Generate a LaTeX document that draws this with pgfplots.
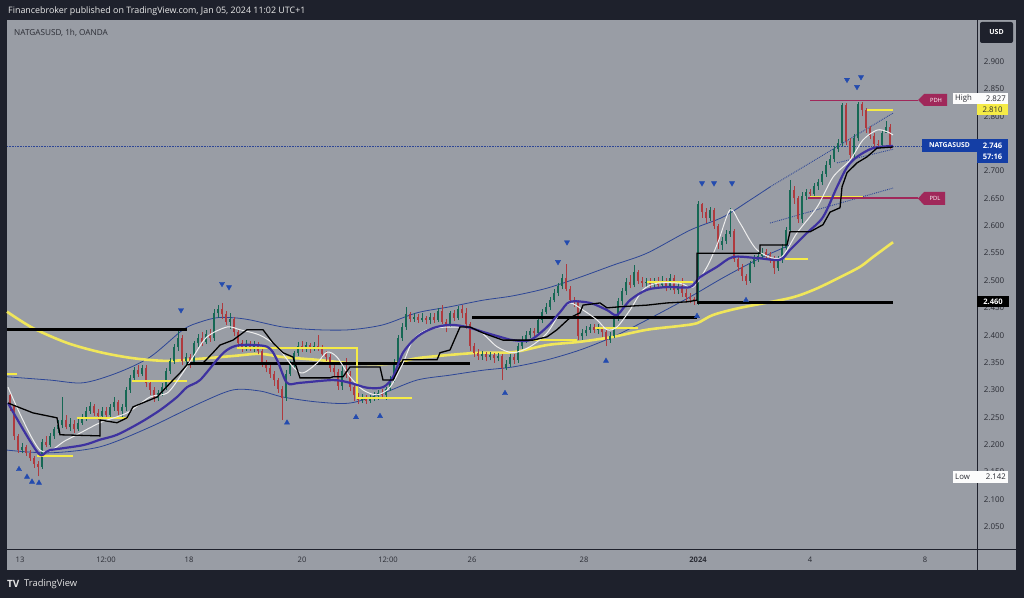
\documentclass[border=0pt]{standalone}
\usepackage{pgfplots}
\pgfplotsset{compat=1.18}
\usepackage{pgfplotstable}
\usepackage{fontspec}
\setmainfont{Open Sans}
\definecolor{bgdark}{RGB}{30,33,44}
\definecolor{panel}{RGB}{153,157,165}
\definecolor{upc}{RGB}{22,104,84}
\definecolor{dnc}{RGB}{175,58,62}
\definecolor{maY}{RGB}{240,230,90}
\definecolor{segY}{RGB}{245,235,70}
\definecolor{purp}{RGB}{62,50,160}
\definecolor{bandc}{RGB}{45,70,150}
\definecolor{tric}{RGB}{35,75,175}
\definecolor{pdhc}{RGB}{160,40,90}
\definecolor{lblue}{RGB}{20,62,165}
\definecolor{txtdark}{RGB}{42,44,52}
\definecolor{whiteln}{RGB}{238,238,238}

\pgfplotstableread{
x o h l c
10 2.290 2.295 2.262 2.270
14 2.270 2.272 2.208 2.215
18 2.215 2.220 2.185 2.190
22 2.190 2.203 2.184 2.196
26 2.196 2.200 2.180 2.185
30 2.185 2.190 2.170 2.175
34 2.175 2.180 2.158 2.165
38 2.165 2.170 2.142 2.160
42 2.160 2.210 2.155 2.205
46 2.205 2.215 2.195 2.200
50 2.200 2.222 2.196 2.215
54 2.215 2.232 2.210 2.228
58 2.228 2.245 2.222 2.235
62 2.235 2.287 2.230 2.245
66 2.245 2.255 2.228 2.232
70 2.232 2.248 2.225 2.238
74 2.238 2.245 2.222 2.228
78 2.228 2.250 2.225 2.240
82 2.240 2.256 2.236 2.248
86 2.248 2.268 2.244 2.262
90 2.262 2.278 2.256 2.270
94 2.270 2.274 2.252 2.258
98 2.258 2.265 2.245 2.252
102 2.252 2.268 2.248 2.262
106 2.262 2.268 2.246 2.255
110 2.255 2.275 2.250 2.268
114 2.268 2.287 2.262 2.278
118 2.278 2.282 2.255 2.262
122 2.262 2.275 2.250 2.268
126 2.268 2.305 2.262 2.300
130 2.300 2.328 2.295 2.322
134 2.322 2.342 2.316 2.336
138 2.336 2.345 2.324 2.330
142 2.330 2.346 2.325 2.340
146 2.340 2.345 2.305 2.312
150 2.312 2.318 2.290 2.300
154 2.300 2.305 2.278 2.285
158 2.285 2.300 2.280 2.295
162 2.295 2.312 2.288 2.305
166 2.305 2.340 2.300 2.335
170 2.335 2.358 2.330 2.352
174 2.352 2.384 2.348 2.378
178 2.378 2.412 2.372 2.395
182 2.395 2.400 2.345 2.352
186 2.352 2.368 2.342 2.360
190 2.360 2.365 2.340 2.348
194 2.348 2.390 2.345 2.385
198 2.385 2.402 2.378 2.395
202 2.395 2.405 2.380 2.388
206 2.388 2.410 2.384 2.402
210 2.402 2.412 2.388 2.395
214 2.395 2.448 2.390 2.440
218 2.440 2.455 2.432 2.448
222 2.448 2.458 2.430 2.438
226 2.438 2.445 2.418 2.425
230 2.425 2.440 2.412 2.430
234 2.430 2.434 2.398 2.405
238 2.405 2.410 2.378 2.385
242 2.385 2.392 2.370 2.378
246 2.378 2.392 2.372 2.384
250 2.384 2.390 2.372 2.378
254 2.378 2.390 2.370 2.382
258 2.382 2.388 2.365 2.372
262 2.372 2.378 2.342 2.350
266 2.350 2.355 2.332 2.340
270 2.340 2.348 2.322 2.330
274 2.330 2.335 2.308 2.318
278 2.318 2.322 2.295 2.302
282 2.302 2.308 2.245 2.285
286 2.285 2.336 2.280 2.330
290 2.330 2.352 2.325 2.345
294 2.345 2.372 2.340 2.368
298 2.368 2.388 2.362 2.380
302 2.380 2.390 2.370 2.376
306 2.376 2.388 2.370 2.382
310 2.382 2.386 2.368 2.376
314 2.376 2.388 2.372 2.380
318 2.380 2.400 2.372 2.378
322 2.378 2.382 2.358 2.365
326 2.365 2.372 2.352 2.360
330 2.360 2.365 2.332 2.340
334 2.340 2.345 2.325 2.332
338 2.332 2.338 2.300 2.308
342 2.308 2.345 2.300 2.335
346 2.335 2.358 2.322 2.330
350 2.330 2.335 2.298 2.305
354 2.305 2.310 2.280 2.290
358 2.290 2.295 2.275 2.282
362 2.282 2.292 2.276 2.285
366 2.285 2.290 2.274 2.280
370 2.280 2.290 2.276 2.284
374 2.284 2.296 2.280 2.288
378 2.288 2.300 2.282 2.294
382 2.294 2.302 2.284 2.290
386 2.290 2.306 2.282 2.302
390 2.302 2.325 2.298 2.318
394 2.318 2.356 2.314 2.350
398 2.350 2.400 2.345 2.395
402 2.395 2.422 2.390 2.415
406 2.415 2.452 2.410 2.438
410 2.438 2.442 2.424 2.430
414 2.430 2.440 2.425 2.434
418 2.434 2.438 2.422 2.428
422 2.428 2.440 2.424 2.432
426 2.432 2.436 2.420 2.428
430 2.428 2.440 2.420 2.434
434 2.434 2.440 2.422 2.428
438 2.428 2.450 2.424 2.445
442 2.445 2.455 2.420 2.425
446 2.425 2.430 2.405 2.420
450 2.420 2.445 2.415 2.440
454 2.440 2.446 2.426 2.432
458 2.432 2.454 2.428 2.448
462 2.448 2.456 2.432 2.440
466 2.440 2.450 2.412 2.420
470 2.420 2.424 2.372 2.380
474 2.380 2.385 2.360 2.368
478 2.368 2.374 2.355 2.362
482 2.362 2.372 2.355 2.366
486 2.366 2.370 2.352 2.360
490 2.360 2.370 2.354 2.364
494 2.364 2.368 2.350 2.358
498 2.358 2.368 2.352 2.362
502 2.362 2.366 2.318 2.340
506 2.340 2.355 2.336 2.348
510 2.348 2.365 2.342 2.360
514 2.360 2.366 2.348 2.355
518 2.355 2.385 2.350 2.380
522 2.380 2.398 2.374 2.392
526 2.392 2.408 2.386 2.400
530 2.400 2.414 2.394 2.408
534 2.408 2.414 2.398 2.404
538 2.404 2.432 2.400 2.428
542 2.428 2.448 2.422 2.442
546 2.442 2.458 2.438 2.452
550 2.452 2.470 2.446 2.465
554 2.465 2.485 2.460 2.478
558 2.478 2.496 2.472 2.490
562 2.490 2.512 2.484 2.505
566 2.505 2.530 2.480 2.485
570 2.485 2.490 2.458 2.465
574 2.465 2.470 2.452 2.460
578 2.460 2.464 2.392 2.398
582 2.398 2.412 2.392 2.404
586 2.404 2.416 2.398 2.410
590 2.410 2.420 2.404 2.415
594 2.415 2.420 2.404 2.410
598 2.410 2.420 2.402 2.414
602 2.414 2.418 2.396 2.405
606 2.405 2.410 2.380 2.392
610 2.392 2.405 2.386 2.398
614 2.398 2.436 2.394 2.430
618 2.430 2.468 2.426 2.462
622 2.462 2.486 2.456 2.480
626 2.480 2.505 2.474 2.498
630 2.498 2.510 2.486 2.492
634 2.492 2.528 2.488 2.515
638 2.515 2.520 2.494 2.500
642 2.500 2.506 2.488 2.495
646 2.495 2.504 2.488 2.498
650 2.498 2.504 2.486 2.494
654 2.494 2.504 2.488 2.498
658 2.498 2.506 2.486 2.492
662 2.492 2.508 2.486 2.500
666 2.500 2.504 2.480 2.488
670 2.488 2.512 2.482 2.505
674 2.505 2.510 2.476 2.482
678 2.482 2.500 2.475 2.490
682 2.490 2.505 2.470 2.478
686 2.478 2.485 2.462 2.470
690 2.470 2.478 2.458 2.466
694 2.466 2.470 2.456 2.462
698 2.462 2.645 2.456 2.640
702 2.640 2.642 2.615 2.625
706 2.625 2.632 2.605 2.615
710 2.615 2.635 2.608 2.628
714 2.628 2.632 2.594 2.600
718 2.600 2.604 2.558 2.565
722 2.565 2.580 2.555 2.572
726 2.572 2.592 2.566 2.585
730 2.585 2.632 2.580 2.590
734 2.590 2.595 2.534 2.540
738 2.540 2.545 2.518 2.525
742 2.525 2.530 2.500 2.508
746 2.508 2.512 2.492 2.500
750 2.500 2.536 2.496 2.530
754 2.530 2.546 2.524 2.540
758 2.540 2.552 2.534 2.545
762 2.545 2.560 2.540 2.552
766 2.552 2.558 2.540 2.546
770 2.546 2.552 2.532 2.540
774 2.540 2.545 2.512 2.522
778 2.522 2.544 2.518 2.538
782 2.538 2.566 2.532 2.560
786 2.560 2.598 2.555 2.592
790 2.592 2.684 2.588 2.665
794 2.665 2.672 2.640 2.650
798 2.650 2.655 2.605 2.612
802 2.612 2.662 2.606 2.655
806 2.655 2.668 2.648 2.662
810 2.662 2.668 2.650 2.658
814 2.658 2.678 2.652 2.672
818 2.672 2.686 2.666 2.680
822 2.680 2.700 2.674 2.695
826 2.695 2.718 2.690 2.712
830 2.712 2.730 2.706 2.722
834 2.722 2.746 2.716 2.740
838 2.740 2.758 2.734 2.752
842 2.752 2.825 2.745 2.820
846 2.820 2.824 2.748 2.755
850 2.755 2.760 2.722 2.730
854 2.730 2.768 2.720 2.760
858 2.760 2.827 2.755 2.822
862 2.822 2.826 2.800 2.812
866 2.812 2.815 2.770 2.778
870 2.778 2.782 2.758 2.765
874 2.765 2.770 2.744 2.750
878 2.750 2.756 2.740 2.748
882 2.748 2.776 2.744 2.770
886 2.770 2.792 2.770 2.780
890 2.780 2.786 2.740 2.746
}\candles

\begin{document}
\begin{tikzpicture}[x=1pt,y=1pt]
% backgrounds
\fill[bgdark] (0,0) rectangle (1024,598);
\fill[panel] (7,28) rectangle (1016,578);
\draw[bgdark, line width=1pt] (977.5,28) -- (977.5,578);
\draw[bgdark, line width=1pt] (7,49) -- (1016,49);
% header texts
\node[anchor=west, text=white!92!black, inner sep=0pt, font=\fontsize{8.9}{10}\selectfont] at (8,587) {Financebroker published on TradingView.com, Jan 05, 2024 11:02 UTC+1};
\node[anchor=west, text=txtdark, inner sep=0pt, font=\fontsize{8.2}{9}\selectfont] at (14,565) {NATGASUSD, 1h, OANDA};
\node[anchor=west, text=white!90!black, inner sep=0pt, font=\fontsize{10}{11}\selectfont\bfseries] at (7,14) {TV};
\node[anchor=west, text=white!90!black, inner sep=0pt, font=\fontsize{9.4}{11}\selectfont] at (24,14) {TradingView};

\begin{axis}[
  at={(7pt,49pt)}, anchor=south west, scale only axis,
  width=970pt, height=529pt,
  xmin=7, xmax=977, ymin=2.0092, ymax=2.9762,
  axis line style={draw=none},
  major tick length=0pt,
  clip=false,
  xtick={20,106,189,302,388,472,584,698,810,925},
  xticklabels={13,12:00,18,20,12:00,26,28,\textbf{2024},4,8},
  xticklabel style={anchor=center, yshift=-11pt, font=\fontsize{7.6}{9}\selectfont, text=txtdark},
  ytick={2.05,2.1,2.15,2.2,2.25,2.3,2.35,2.4,2.45,2.5,2.55,2.6,2.65,2.7,2.75,2.8,2.85,2.9},
  yticklabel pos=right,
  yticklabel style={anchor=center, xshift=17pt, font=\fontsize{8}{9}\selectfont, text=txtdark,
    /pgf/number format/.cd, fixed, fixed zerofill, precision=3, assume math mode=true},
]
% current price dotted line
\addplot[densely dotted, color=bandc, line width=0.6pt] coordinates {(7,2.746) (977,2.746)};
% bands
\addplot[bandc, line width=0.8pt, smooth] coordinates {
(7,2.324) (50,2.318) (83,2.313) (117,2.331) (150,2.360) (183,2.410) (200,2.424) (217,2.432) (233,2.432) (250,2.428) (283,2.415) (317,2.410) (350,2.410) (383,2.419) (417,2.441) (450,2.452) (483,2.464) (513,2.472) (547,2.486) (580,2.506) (613,2.528) (647,2.550) (690,2.592) (723,2.616) (750,2.647) (770,2.671)};
\addplot[bandc, line width=0.8pt, smooth] coordinates {
(7,2.190) (50,2.185) (100,2.196) (150,2.232) (200,2.276) (233,2.300) (260,2.298) (283,2.287) (317,2.278) (350,2.276) (383,2.294) (417,2.318) (450,2.327) (483,2.336) (513,2.342) (547,2.355) (580,2.373) (613,2.397) (647,2.428) (690,2.470) (723,2.505) (757,2.538) (790,2.565)};
\addplot[bandc, line width=0.9pt, densely dotted] coordinates {(770,2.671) (893,2.806)};
\addplot[bandc, line width=0.9pt, densely dotted] coordinates {(770,2.605) (893,2.669)};
\addplot[bandc, line width=0.9pt, densely dotted] coordinates {(837,2.715) (893,2.740)};
% yellow moving average
\addplot[maY, line width=2.6pt, smooth] coordinates {
(7,2.443) (33,2.413) (67,2.386) (100,2.369) (133,2.358) (167,2.353) (200,2.357) (233,2.362) (260,2.366) (283,2.360) (317,2.355) (350,2.349) (383,2.347) (400,2.351) (417,2.358) (450,2.364) (480,2.368) (513,2.369) (547,2.382) (580,2.388) (613,2.397) (647,2.410) (680,2.417) (697,2.422) (713,2.437) (740,2.450) (790,2.468) (815,2.484) (840,2.506) (860,2.525) (873,2.543) (893,2.570)};
% candles: wicks and bodies
\addplot[draw=none, mark=none, error bars/.cd, y dir=plus, y explicit, error mark=none,
  error bar style={draw=upc, line width=0.8pt}]
  table[x=x, y=l, y error plus expr={(\thisrow{c}>=\thisrow{o})*(\thisrow{h}-\thisrow{l})}] {\candles};
\addplot[draw=none, mark=none, error bars/.cd, y dir=plus, y explicit, error mark=none,
  error bar style={draw=dnc, line width=0.8pt}]
  table[x=x, y=l, y error plus expr={(\thisrow{c}<\thisrow{o})*(\thisrow{h}-\thisrow{l})}] {\candles};
\addplot[draw=none, mark=none, error bars/.cd, y dir=plus, y explicit, error mark=none,
  error bar style={draw=upc, line width=2.4pt}]
  table[x=x, y=o, y error plus expr={(\thisrow{c}>=\thisrow{o})*(\thisrow{c}-\thisrow{o})}] {\candles};
\addplot[draw=none, mark=none, error bars/.cd, y dir=plus, y explicit, error mark=none,
  error bar style={draw=dnc, line width=2.4pt}]
  table[x=x, y=c, y error plus expr={(\thisrow{c}<\thisrow{o})*(\thisrow{o}-\thisrow{c})}] {\candles};
% thick black levels
\addplot[black, line width=3.2pt] coordinates {(7,2.411) (187,2.411)};
\addplot[black, line width=3.2pt] coordinates {(187,2.349) (470,2.349)};
\addplot[black, line width=3.2pt] coordinates {(472,2.432) (697,2.432)};
\addplot[black, line width=3.2pt] coordinates {(697,2.460) (893,2.460)};
% yellow segments
\addplot[segY, line width=2.2pt] coordinates {(7,2.329) (17,2.329)};
\addplot[segY, line width=2.2pt] coordinates {(37,2.179) (73,2.179)};
\addplot[segY, line width=2.2pt] coordinates {(77,2.249) (128,2.249)};
\addplot[segY, line width=2.2pt] coordinates {(132,2.316) (187,2.316)};
\addplot[segY, line width=2.2pt] coordinates {(237,2.377) (357,2.377) (357,2.285) (412,2.285)};
\addplot[segY, line width=2.2pt] coordinates {(530,2.391) (577,2.391)};
\addplot[segY, line width=2.2pt] coordinates {(595,2.413) (638,2.413)};
\addplot[segY, line width=2.2pt] coordinates {(647,2.497) (693,2.497)};
\addplot[segY, line width=2.2pt] coordinates {(785,2.539) (808,2.539)};
\addplot[segY, line width=2.2pt] coordinates {(810,2.653) (863,2.653)};
\addplot[segY, line width=2.2pt] coordinates {(867,2.812) (893,2.812)};
% PDH / PDL
\addplot[pdhc, line width=1.5pt] coordinates {(810,2.829) (918,2.829)};
\addplot[pdhc, line width=1.5pt] coordinates {(808,2.651) (918,2.651)};
% white fast average
\addplot[whiteln, line width=1pt, smooth] coordinates {
(8,2.305) (40,2.190) (67,2.209) (100,2.240) (127,2.258) (150,2.287) (167,2.294) (180,2.324) (193,2.360) (207,2.397) (227,2.415) (240,2.410) (260,2.400) (277,2.379) (293,2.342) (303,2.331) (317,2.349) (327,2.369) (337,2.360) (350,2.324) (363,2.300) (377,2.291) (390,2.305) (403,2.349) (413,2.391) (427,2.410) (450,2.415) (477,2.410) (497,2.379) (513,2.368) (530,2.379) (547,2.404) (560,2.441) (570,2.459) (583,2.446) (597,2.428) (607,2.410) (617,2.415) (630,2.446) (643,2.483) (657,2.495) (680,2.495) (693,2.488) (707,2.525) (718,2.570) (730,2.629) (740,2.605) (757,2.556) (780,2.541) (797,2.587) (817,2.634) (833,2.689) (850,2.720) (863,2.757) (877,2.775) (887,2.772) (893,2.766)};
% purple average
\addplot[purp, line width=2.2pt, smooth] coordinates {
(8,2.276) (38,2.185) (50,2.190) (83,2.199) (100,2.209) (117,2.218) (140,2.240) (160,2.263) (177,2.287) (187,2.305) (200,2.318) (217,2.355) (227,2.373) (240,2.382) (267,2.379) (277,2.355) (287,2.313) (300,2.313) (333,2.318) (350,2.313) (367,2.304) (383,2.305) (393,2.324) (403,2.368) (417,2.397) (433,2.413) (450,2.419) (467,2.415) (483,2.406) (500,2.397) (513,2.391) (530,2.391) (547,2.415) (560,2.442) (570,2.461) (590,2.459) (607,2.446) (617,2.437) (630,2.464) (647,2.483) (667,2.488) (690,2.488) (700,2.506) (717,2.525) (733,2.543) (757,2.541) (780,2.538) (790,2.556) (807,2.587) (823,2.616) (837,2.671) (847,2.707) (857,2.726) (873,2.742) (893,2.746)};
% black thin step line
\addplot[black, line width=1.3pt] coordinates {
(8,2.276) (33,2.258) (57,2.249) (60,2.218) (100,2.216) (100,2.245) (117,2.240) (127,2.249) (133,2.269) (157,2.287) (173,2.318) (180,2.331) (187,2.346) (203,2.349) (213,2.368) (220,2.382) (233,2.391) (247,2.410) (263,2.410) (273,2.386) (283,2.368) (293,2.360) (300,2.322) (330,2.322) (333,2.324) (343,2.324) (350,2.342) (380,2.342) (383,2.318) (393,2.318) (403,2.355) (437,2.355) (440,2.368) (450,2.373) (460,2.415) (470,2.415) (483,2.404) (503,2.391) (533,2.391) (547,2.397) (557,2.410) (570,2.432) (580,2.441) (583,2.455) (600,2.459) (607,2.450) (620,2.452) (647,2.455) (667,2.459) (687,2.461) (697,2.464) (697,2.550) (760,2.550) (760,2.565) (787,2.565) (790,2.589) (810,2.589) (823,2.602) (830,2.625) (840,2.633) (842,2.671) (847,2.697) (857,2.715) (867,2.726) (877,2.742) (893,2.744)};
% triangle markers
\addplot[only marks, mark=triangle*, mark size=3pt, color=tric] coordinates {
(19,2.155) (27,2.141) (32,2.132) (39,2.130) (287,2.240) (356,2.250) (380,2.252) (505,2.294) (606,2.353) (697,2.435) (746,2.464)};
\addplot[only marks, mark=triangle*, mark size=3pt, color=tric, mark options={rotate=180}] coordinates {
(181,2.446) (222,2.494) (229,2.488) (558,2.534) (567,2.570) (702,2.678) (714,2.678) (732,2.678) (847,2.867) (861,2.872) (857,2.854)};
\end{axis}

% right side labels (drawn on top)
\fill[bgdark, rounded corners=2pt] (980,555) rectangle (1013,576);
\node[text=white, font=\fontsize{7}{8}\selectfont\bfseries] at (996.5,565.5) {USD};
% PDH tag
\fill[pdhc] (918,498) -- (924,504) -- (947,504) -- (947,492) -- (924,492) -- cycle;
\node[text=white, font=\fontsize{5.8}{6}\selectfont] at (936,498) {PDH};
% PDL tag
\fill[pdhc] (918,399.5) -- (924,406) -- (945,406) -- (945,393) -- (924,393) -- cycle;
\node[text=white, font=\fontsize{5.8}{6}\selectfont] at (935,399.5) {PDL};
% High / 2.810
\fill[white!97!panel] (953,494) rectangle (1008,505);
\node[anchor=west, text=txtdark, inner sep=0pt, font=\fontsize{7.8}{9}\selectfont] at (955,499.5) {High};
\node[anchor=east, text=txtdark, inner sep=0pt, font=\fontsize{7.8}{9}\selectfont] at (1006,499.5) {2.827};
\fill[segY] (977,483) rectangle (1008,494);
\node[text=txtdark, inner sep=0pt, font=\fontsize{7.8}{9}\selectfont] at (992.5,488.5) {2.810};
% NATGASUSD label
\fill[lblue] (922,446) rectangle (1008,459);
\fill[lblue] (977,435) rectangle (1008,446);
\node[text=white, inner sep=0pt, font=\fontsize{6.8}{8}\selectfont\bfseries] at (949.5,452.5) {NATGASUSD};
\node[text=white, inner sep=0pt, font=\fontsize{7.6}{9}\selectfont\bfseries] at (992.5,452.5) {2.746};
\node[text=white, inner sep=0pt, font=\fontsize{7.6}{9}\selectfont\bfseries] at (992.5,441) {57:16};
% 2.460
\fill[black] (977,291) rectangle (1009,302);
\node[text=white, inner sep=0pt, font=\fontsize{7.6}{9}\selectfont\bfseries] at (993,296.5) {2.460};
% Low
\fill[white!97!panel] (953,115) rectangle (1008,127);
\node[anchor=west, text=txtdark, inner sep=0pt, font=\fontsize{7.8}{9}\selectfont] at (955,121) {Low};
\node[anchor=east, text=txtdark, inner sep=0pt, font=\fontsize{7.8}{9}\selectfont] at (1006,121) {2.142};
\end{tikzpicture}
\end{document}
